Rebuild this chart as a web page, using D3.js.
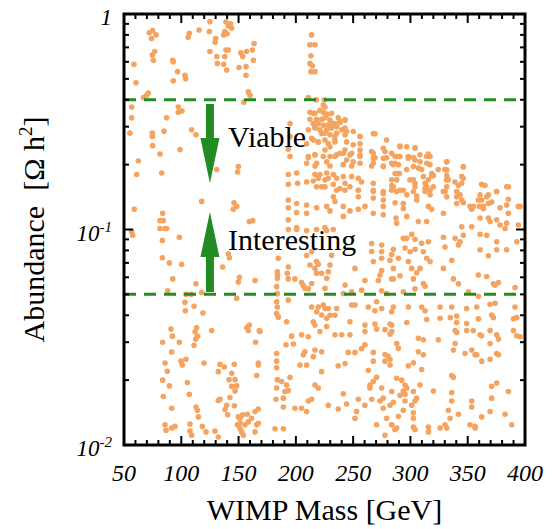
<!DOCTYPE html>
<html>
<head>
<meta charset="utf-8">
<script src="https://cdn.jsdelivr.net/npm/d3@7"></script>
<style>
  html, body { margin: 0; padding: 0; background: #fff; }
  svg text { font-family: "Liberation Serif", "Times New Roman", serif; fill: #000; }
</style>
</head>
<body>
<div id="chart"></div>
<script>
// Axis settings
const xTicks = [50, 100, 150, 200, 250, 300, 350, 400];
const yTicks = [0.01, 0.1, 1];
const yTickLabels = [["10", "-2"], ["10", "-1"], ["1", ""]];
const boundLines = [0.05, 0.4];
const regionLabels = ["Viable", "Interesting"];

// Scan points [mass GeV, abundance]
const ptsTopLeft = [
  [75,0.837],[72,0.819],[78,0.80],[74,0.77],[107,0.814],[106,0.78],[115.5,0.843],[125,0.92],[124.5,0.83],
  [130,0.77],[129.5,0.74],[139,0.92],[141,0.88],[143,0.9],[144,0.86],[138,0.83],[137,0.8],[140,0.81],
  [125,0.67],[131,0.635],[131.5,0.59],[139,0.68],[141,0.68],[138,0.635],[137,0.585],[139.6,0.55],
  [152,0.66],[153.6,0.635],[157,0.67],[162,0.68],[163.5,0.73],[150.4,0.565],[156.5,0.57],[156.5,0.52],
  [163,0.61],[76.8,0.67],[74.7,0.645],[75.6,0.61],[92.5,0.61],[93,0.6],[58.7,0.584],[96.8,0.54],
  [103.2,0.52],[103.8,0.5],[93,0.49],[60.5,0.48],[71.2,0.43],[69.8,0.42],[66.9,0.41],[158.5,0.435],
  [160,0.42],[154.7,0.39],[56.7,0.37],[56.7,0.33],[97.4,0.37],[97.4,0.35],[100.6,0.355],[87.2,0.33],
  [84.9,0.286],[74.7,0.28],[74.7,0.27],[55.2,0.28],[109,0.29],[112.8,0.275],[75,0.245],[81.4,0.224],
  [98.9,0.235],[62.5,0.208],[61,0.18],[82.9,0.183],[130.9,0.19],[149.8,0.196],[149.2,0.185],
  [117.8,0.135],[146,0.133],[148.3,0.128],[145.4,0.124],[59,0.124],[83.7,0.119],[81.4,0.11],
  [84.3,0.11],[85.8,0.101],[159.4,0.109],[162.3,0.11]
];

const ptsTopMid = [
  [213.8,0.8],[212.3,0.72],[216.7,0.72],[213.2,0.64],[212.3,0.59],[214.4,0.575],[213.2,0.54],[216.7,0.54],
  [210.9,0.41],[218,0.40],[224.8,0.40],[225.4,0.37],
  [212.3,0.35],[216.7,0.346],[221,0.357],[224,0.35],[226.9,0.343],[212.3,0.325],[218.1,0.325],[222.5,0.325],
  [225.4,0.33],[229.8,0.322],[215.2,0.31],[219.6,0.31],[224,0.305],[228.3,0.305],[232.7,0.31],[237,0.33],
  [238.5,0.314],[242.9,0.322],[235.6,0.30],[231.2,0.296],[226.9,0.29],[216.7,0.296],[210.9,0.29],
  [222.5,0.279],[229.8,0.275],[234.1,0.27],[242.9,0.296],[242.9,0.275],[250.1,0.285],[256,0.27],[267.6,0.279],
  [194.9,0.31],[194.9,0.27],[193.4,0.236],[194.9,0.218],
  [209.4,0.25],[215.2,0.26],[219.6,0.255],[225.4,0.26],[234.1,0.255],[229.8,0.242],[225.4,0.234],
  [216.7,0.222],[210.9,0.218],[209.4,0.203],[218.1,0.203],[226.9,0.206],[234.1,0.218],[238.5,0.226],
  [242.9,0.234],[244.3,0.21],[248.7,0.226],[250.1,0.206],[256,0.25],[256,0.234],[256,0.218],[256,0.203],
  [267.6,0.226],[267.6,0.214],[267.6,0.203],[276.3,0.238],[276.3,0.214],[276.3,0.196],[283.6,0.226],[283.6,0.203],
  [193.4,0.18],[200.7,0.183],[193.4,0.162],[201.5,0.164],
  [216.7,0.18],[219.6,0.173],[226.9,0.183],[228.3,0.173],[232.7,0.18],[235.6,0.173],[241.4,0.176],
  [248.7,0.176],[254.5,0.173],[257.4,0.166],
  [218.1,0.158],[225.4,0.158],[235.6,0.152],[242.9,0.152],[242.9,0.164],[232.7,0.142],[234.1,0.135],
  [254.5,0.152],[254.5,0.142],[267.6,0.164],[267.6,0.15],[267.6,0.14],[276.3,0.147],[276.3,0.137],
  [283.6,0.17],[283.6,0.152],
  [193.4,0.137],[200.7,0.132],[193.4,0.126],[200.7,0.12],[209.4,0.13],[209.4,0.119],[218.1,0.126],
  [226.9,0.128],[229.8,0.122],[241.4,0.128],[247.2,0.122],[241.4,0.115],[254.5,0.124],[260.3,0.128],
  [267.6,0.119],[276.3,0.128],[276.3,0.117],[193.4,0.111],[200.7,0.102],[225.4,0.102]
];

// extra points from the densest band (200-400 GeV, 0.1-0.4)
const ptsDense = [
  [224,0.378],[215.2,0.346],[226.9,0.34],[231.2,0.346],[234.1,0.31],[238.5,0.3166],[242.9,0.323],
  [216.7,0.30],[221,0.29],[225.4,0.28],[235.6,0.28],[240,0.29],[244.3,0.285],[256,0.27],[269.1,0.278],
  [279.2,0.26],[290.9,0.242],[304,0.238],[213.8,0.265],[219.6,0.255],[228.3,0.25],[234.1,0.26],
  [244.3,0.255],[250.1,0.247],[210.9,0.215],[216.7,0.222],[224,0.218],[229.8,0.218],[235.6,0.222],
  [241.4,0.226],[247.2,0.222],[256,0.222],[266.1,0.23],[269.1,0.215],[277.8,0.23],[279.2,0.215],
  [288,0.218],[298.1,0.218],[304,0.21],[308.3,0.222],[314.1,0.218],[331.6,0.206],[346.1,0.195],
  [216.7,0.197],[221,0.18],[229.8,0.197],[241.4,0.2],[248.7,0.197],[266.1,0.197],[276.3,0.197],
  [286.5,0.203],[289.4,0.182],[296.7,0.19],[306.9,0.193],[318.5,0.177],[324.3,0.19],[330.1,0.19],
  [331.6,0.17],[338.9,0.166],[346.1,0.173],[362.1,0.162],[368,0.145],[375.2,0.15],[384,0.158],
  [209.4,0.166],[215.2,0.168],[222.5,0.158],[225.4,0.17],[232.7,0.162],[238.5,0.155],[247.2,0.158],
  [254.5,0.152],[267.6,0.152],[276.3,0.15],[285.1,0.158],[290.9,0.152],[299.6,0.17],[304,0.158],
  [312.7,0.155],[320,0.158],[328.7,0.15],[340.3,0.142],[352,0.128],[359.2,0.137],[363.6,0.128],
  [370.9,0.134],[378.1,0.126],[394.1,0.128]
];

const ptsTopRight = [
  [290.9,0.244],[296.8,0.242],[304,0.24],[286.6,0.218],[290.9,0.218],[298.2,0.214],[302.6,0.216],
  [315.7,0.224],[317.1,0.218],[285.1,0.2],[289.5,0.2],[286.6,0.182],[290.3,0.182],[288,0.17],[283.7,0.16],
  [288,0.15],[293.8,0.152],[296.8,0.145],[302.6,0.196],[308.4,0.206],[309.8,0.19],[314.2,0.203],
  [317.1,0.2],[318.6,0.182],[320,0.178],[302.6,0.17],[304,0.164],[311.3,0.176],[312.8,0.164],[315.7,0.17],
  [314.2,0.158],[317.1,0.152],[312.8,0.15],[302.6,0.15],[305.5,0.137],[305.5,0.143],[317.1,0.145],
  [286.6,0.133],[293.8,0.132],[293.8,0.125],[331.7,0.206],[331.7,0.189],[331.7,0.178],[333.1,0.17],
  [331.7,0.158],[330.2,0.15],[331.7,0.142],[328.8,0.119],[346.2,0.196],[344.8,0.176],[344.8,0.164],
  [341.9,0.16],[340.4,0.15],[343.3,0.145],[344.8,0.137],[340.4,0.132],[346.2,0.133],[344.8,0.103],
  [315.7,0.128],[318.6,0.124],[314.2,0.109],[306.9,0.109],[296.8,0.115],[287.4,0.113],[288,0.107],
  [365.1,0.16],[360.8,0.145],[362.2,0.137],[366.6,0.142],[368,0.132],[360.2,0.128],[363.7,0.125],
  [355,0.128],[353.5,0.124],[375.3,0.15],[385.5,0.158],[385.5,0.138],[384,0.13],[385.5,0.119],
  [395.7,0.128],[360.8,0.113],[368,0.113],[369.5,0.109],[375.3,0.111],[378.2,0.105],[384,0.107],
  [394.2,0.105],[353.5,0.103]
];

const ptsBottomLeft = [
  [56.7,0.098],[57.6,0.094],[81.4,0.101],[87.2,0.101],[83.5,0.089],[98.3,0.092],[83.5,0.074],[89.6,0.070],
  [100.3,0.069],[92.5,0.059],[88.1,0.052],[112.8,0.056],[117.8,0.051],[104.1,0.050],[108.5,0.050],
  [103.2,0.046],[111.1,0.044],[103.5,0.042],[118.9,0.041],[141.1,0.077],[142,0.074],[136.1,0.067],
  [150.7,0.060],[149.8,0.057],[164.4,0.058],[148.3,0.048],[157.1,0.035],[159.4,0.036],[158.5,0.034],
  [164.9,0.030],[168.1,0.034],[91,0.0345],[92.2,0.032],[83.7,0.030],[98.3,0.030],[91.6,0.027],
  [113.4,0.035],[112,0.0335],[114.3,0.032],[111.1,0.029],[112.6,0.031],[126.5,0.034],[119.8,0.024],
  [104.1,0.025],[85.8,0.024],[87.8,0.022],[83.7,0.020],[89.6,0.0188],[84.3,0.0168],[99.8,0.0245],
  [100.9,0.0235],[105.3,0.0195],[107,0.0172],[112.8,0.015],[114.9,0.0135],[114,0.0145],[91.6,0.0148],
  [85.8,0.0124],[86.7,0.0117],[91.6,0.012],[94.5,0.0122],[107.6,0.0125],[107.6,0.0116],[109.1,0.0111],
  [118.4,0.0122],[121.6,0.0115],[129.4,0.0116],[132.3,0.0109],
  [133.8,0.0237],[132.3,0.0219],[137.6,0.023],[146.3,0.0237],[144,0.0215],[141.7,0.0201],[146.9,0.0201],
  [148.3,0.0188],[146.9,0.0178],[142.5,0.0166],[139.6,0.0153],[133.8,0.0163],[132.3,0.0161],[138.2,0.0146],
  [140.5,0.0138],[146.3,0.0152],[144,0.0187],
  [149.8,0.0135],[151.3,0.0133],[153.6,0.0138],[157.7,0.0139],[148.9,0.0124],[151.3,0.0119],[152.7,0.0115],
  [154.2,0.0111],[151.3,0.0126],[155.6,0.0124],[158.5,0.0128],[161.4,0.0133],[164.4,0.0143],[165.8,0.0124],
  [164.4,0.0115],[167.3,0.024],[165.8,0.021]
];

const ptsBottomMid = [
  [184.7,0.0735],[183.8,0.0637],[184.1,0.0615],[183.8,0.0593],[183.2,0.0543],[183.8,0.0504],[183.2,0.0462],
  [183.8,0.0437],[183.2,0.0407],[184.7,0.0392],[193.4,0.067],[192.5,0.0627],[193.4,0.059],[193.4,0.047],
  [191.9,0.0373],[191.4,0.0292],[196.3,0.032],
  [199.2,0.059],[205,0.0567],[208,0.0533],[206.5,0.055],[210.9,0.053],[213.8,0.0562],[216.7,0.066],
  [212.3,0.0684],[218.1,0.071],[209.4,0.0758],[213.8,0.079],[219.6,0.069],
  [218.1,0.0627],[222.5,0.0627],[228.3,0.0637],[226.9,0.0593],[229.8,0.0684],[231.2,0.076],[225.4,0.0533],
  [224,0.0446],[225.4,0.043],[228.3,0.043],[219.6,0.0437],[213.8,0.0437],[218.1,0.0415],[222.5,0.0401],
  [226.9,0.0387],[235.6,0.043],[234.1,0.04],[229.8,0.04],
  [215.2,0.0373],[216.7,0.036],[221,0.0336],[226.9,0.0355],[234.1,0.0325],[240,0.0325],[247.2,0.0325],
  [247.2,0.0373],[248.7,0.0446],[242.9,0.0552],[251.6,0.066],
  [210.9,0.0318],[205,0.0325],[197.8,0.0294],[207.9,0.0271],[206.5,0.0262],[216.7,0.0276],[222.5,0.0271],
  [215.2,0.0257],[203.6,0.0235],[209.4,0.0235],[222.5,0.0219],[216.7,0.019],[219.6,0.0184],[213.8,0.0163],
  [210.9,0.016],[205,0.0148],[209.4,0.0143],[199.2,0.0148],
  [183.2,0.0266],[183.2,0.0245],[183.2,0.0228],[183.8,0.0201],[183.2,0.0184],[182.6,0.0163],[187.6,0.0197],
  [191.9,0.019],[190.5,0.0177],[189.1,0.0165],[194.9,0.0206],[193.4,0.0179],[189.1,0.015],[181.8,0.0119],
  [189.1,0.0119],[167.2,0.0147],[167.2,0.0126],[167.2,0.0235],[168.7,0.0336],
  [228.3,0.0153],[237,0.0147],[244.3,0.0155],[241.4,0.0173],[254.5,0.0163],[253,0.0143],[251.6,0.0133],
  [260.3,0.0153],[266.2,0.0163],[264.7,0.019],[264.7,0.0184],[267.6,0.0197],[270.5,0.0206],[274.9,0.0184],
  [276.3,0.0165],[273.4,0.016],[276.3,0.0148],[282.2,0.0153],[279.2,0.0133],[283.6,0.0124],[286.5,0.0118],
  [277.8,0.0111],[270.5,0.0124],[263.2,0.0222],
  [237,0.0233],[242.9,0.0239],[245.8,0.0269],[251.6,0.0269],[257.4,0.028],[260.3,0.0292],[267.6,0.0269],
  [267.6,0.0245],[277.8,0.0263],[280.7,0.0257],[277.8,0.0245],[282.2,0.0327],[277.8,0.0343],[269,0.0364],
  [270.5,0.0345],[260.3,0.036],[260.3,0.0336],
  [248.7,0.0514],[241.4,0.0505],[251.6,0.0446],[257.4,0.0523],[260.3,0.058],[272,0.058],[274.9,0.052],
  [263.2,0.0437],[269,0.042],[274.9,0.043],[282.2,0.0364],[283.6,0.0415],[267.6,0.071],[274.9,0.0735],
  [274.9,0.0645],[273.4,0.0615],[266.2,0.079],[274.9,0.0789],[283.6,0.0765],[283.6,0.059],
  [279.2,0.0505],[270.5,0.0462],
  [193.4,0.1],[200.7,0.1],[209.4,0.099],[218.1,0.1],[226.9,0.099],[232.7,0.1],[266.2,0.086],[274.9,0.0848],
  [282.2,0.072]
];

const ptsBottomRight = [
  [293.8,0.091],[296.8,0.091],[301.1,0.095],[304,0.090],[309.8,0.0864],[315.7,0.0878],[328.8,0.092],
  [330.2,0.083],[339,0.091],[343.3,0.0878],[341.9,0.0848],[346.2,0.094],[360.8,0.095],[366.6,0.094],
  [375.3,0.0878],[382.6,0.101],[392.8,0.0878],[360.8,0.0806],[368,0.0755],[375.3,0.0806],[384,0.0806],
  [359.3,0.0615],[366.6,0.0605],[372.4,0.056],[376.8,0.0567],[391.3,0.0538],
  [285.1,0.081],[289.5,0.0735],[295.3,0.082],[299.7,0.0789],[304,0.081],[311.3,0.0789],[314.2,0.0735],
  [317.1,0.071],[298.2,0.071],[301.1,0.066],[305.5,0.063],[308.4,0.066],[302.6,0.059],[311.3,0.0562],
  [312.8,0.0545],[304,0.053],[293.8,0.0514],[285.1,0.066],[290.9,0.061],[285.1,0.059],
  [328.8,0.066],[336.1,0.072],[337.5,0.059],[341.9,0.056],[350.6,0.0514],[359.3,0.049],[373.9,0.0552],
  [285.1,0.0437],[298.2,0.0437],[309.8,0.0437],[312.8,0.042],[325.9,0.0437],[336,0.0437],[349.1,0.043],
  [357.9,0.0437],[369.5,0.045],[373.9,0.0455],[391.3,0.0437],[283.7,0.036],[283.7,0.0336],[296.8,0.037],
  [314.2,0.0382],[325.9,0.0387],[334.8,0.039],[340.4,0.0397],[340.4,0.037],[349.1,0.0366],[359.3,0.0385],
  [370.9,0.0401],[372.4,0.039],[392.8,0.039],[389.9,0.0385],[339,0.034],[340.4,0.0333],[349.1,0.034],
  [354.9,0.034],[360.8,0.0325],[362.2,0.0321],[369.5,0.034],[375.3,0.0325],[376.8,0.031],[389.9,0.034],
  [392.8,0.0321],[395.7,0.0318],[288,0.0296],[289.5,0.0281],[306.9,0.0313],[311.3,0.0308],[324.4,0.0308],
  [339,0.0296],[337.5,0.0276],[347.7,0.0266],[353.5,0.0276],[356.4,0.0262],[357.9,0.0262],[369.5,0.0296],
  [375.3,0.0266],[376.8,0.0262],[362.2,0.0245],[369.5,0.025],
  [282.2,0.0249],[282.2,0.0235],[288,0.0204],[292.4,0.02],[295.3,0.019],[296.8,0.0184],[293.8,0.0178],
  [295.3,0.0172],[290.9,0.017],[302.6,0.0241],[298.2,0.0233],[306.9,0.0271],[311.3,0.0262],[309.8,0.0224],
  [308.4,0.019],[302.6,0.0177],[305.5,0.0165],[304,0.016],[301.1,0.0153],[302.6,0.0141],[302.6,0.0133],
  [289.5,0.0136],[293.8,0.0145],[295.3,0.016],[285.1,0.0158],[283.7,0.0177],[283.7,0.0124],[288,0.012],
  [302.6,0.0121],[304,0.0118],[315.7,0.0121],[315.7,0.0115],[325.9,0.012],[330.2,0.0124],[331.7,0.012],
  [334.6,0.0133],[333.1,0.0145],[336,0.016],[320,0.0178],[336,0.0175],[337.5,0.0206],[336,0.021],
  [353.5,0.016],[353.5,0.015],[352,0.0124],[356.4,0.0122],[356.4,0.012],[341.9,0.0139],[370.9,0.0187],
  [370.9,0.0165],[369.5,0.0143],[375.3,0.0194],[382.6,0.0139],[385.5,0.0177],[388.4,0.0124],[362.2,0.0135]
];

const allPoints = [].concat(ptsTopLeft, ptsTopMid, ptsDense, ptsTopRight, ptsBottomLeft, ptsBottomMid, ptsBottomRight);

// Arrow geometry in data units: base of shaft, start of head, tip
const arrows = [
  {mass: 125, base: 0.382, head: 0.266, tip: 0.164},
  {mass: 125, base: 0.0513, head: 0.0745, tip: 0.1205}
];

const width = 558, height = 529;
const plot = {left: 124, right: 525, top: 14, bottom: 445};
const green = "#238b23";
const orange = "#f4a460";
const serif = "'Liberation Serif', 'Times New Roman', Times, serif";

const svg = d3.select("#chart").append("svg")
    .attr("width", width).attr("height", height)
    .attr("viewBox", `0 0 ${width} ${height}`)
    .attr("font-family", serif);

const x = d3.scaleLinear().domain([50, 400]).range([plot.left, plot.right]);
const y = d3.scaleLog().domain([0.01, 1]).range([plot.bottom, plot.top]);

// points
svg.append("g").selectAll("circle").data(allPoints).join("circle")
    .attr("cx", d => x(d[0])).attr("cy", d => y(d[1]))
    .attr("r", 2.8).attr("fill", orange);

// dashed bounds
svg.append("g").selectAll("line").data(boundLines).join("line")
    .attr("x1", plot.left).attr("x2", plot.right)
    .attr("y1", d => y(d)).attr("y2", d => y(d))
    .attr("stroke", green).attr("stroke-width", 3)
    .attr("stroke-dasharray", "12 8");

// arrows
const shaftW = 4, headW = 9.5;
svg.append("g").selectAll("path").data(arrows).join("path")
    .attr("d", a => {
        const cx = x(a.mass), yb = y(a.base), yh = y(a.head), yt = y(a.tip);
        return `M${cx - shaftW},${yb} L${cx + shaftW},${yb} L${cx + shaftW},${yh} L${cx + headW},${yh}
                L${cx},${yt} L${cx - headW},${yh} L${cx - shaftW},${yh} Z`;
    })
    .attr("fill", green);

svg.append("text").attr("x", x(140.8)).attr("y", y(0.241))
    .style("font-size", "30px").text(regionLabels[0]);
svg.append("text").attr("x", x(140.8)).attr("y", y(0.0804))
    .style("font-size", "30px").text(regionLabels[1]);

// ticks (inside, mirrored on all sides)
const xMinor = d3.range(50, 401, 10).filter(v => !xTicks.includes(v));
const yMinor = [];
[0.01, 0.1].forEach(dec => d3.range(2, 10).forEach(k => yMinor.push(dec * k)));

const tickG = svg.append("g").attr("stroke", "#000").attr("stroke-width", 2);
function xTick(v, len) {
    tickG.append("line").attr("x1", x(v)).attr("x2", x(v)).attr("y1", plot.bottom).attr("y2", plot.bottom - len);
    tickG.append("line").attr("x1", x(v)).attr("x2", x(v)).attr("y1", plot.top).attr("y2", plot.top + len);
}
function yTick(v, len) {
    tickG.append("line").attr("y1", y(v)).attr("y2", y(v)).attr("x1", plot.left).attr("x2", plot.left + len);
    tickG.append("line").attr("y1", y(v)).attr("y2", y(v)).attr("x1", plot.right).attr("x2", plot.right - len);
}
xTicks.forEach(v => xTick(v, 9));
xMinor.forEach(v => xTick(v, 5));
yTicks.forEach(v => yTick(v, 9));
yMinor.forEach(v => yTick(v, 5));

// frame
svg.append("rect")
    .attr("x", plot.left).attr("y", plot.top)
    .attr("width", plot.right - plot.left).attr("height", plot.bottom - plot.top)
    .attr("fill", "none").attr("stroke", "#000").attr("stroke-width", 3);

// x tick labels
svg.append("g").selectAll("text").data(xTicks).join("text")
    .attr("x", d => x(d)).attr("y", 481)
    .attr("text-anchor", "middle")
    .style("font-size", "24px").style("font-style", "italic")
    .text(d => d);

// y tick labels
const yl = svg.append("g").selectAll("text").data(yTicks).join("text")
    .attr("x", 112).attr("y", d => y(d) + 11)
    .attr("text-anchor", "end")
    .style("font-size", "23px").style("font-style", "italic");
yl.append("tspan").text((d, i) => yTickLabels[i][0]);
yl.append("tspan").attr("dy", -9).style("font-size", "15px").text((d, i) => yTickLabels[i][1]);

// axis titles
svg.append("text").attr("x", (plot.left + plot.right) / 2).attr("y", 520)
    .attr("text-anchor", "middle").style("font-size", "30px")
    .text("WIMP Mass [GeV]");

const yt = svg.append("text")
    .attr("transform", `translate(44,${(plot.top + plot.bottom) / 2}) rotate(-90)`)
    .attr("text-anchor", "middle").style("font-size", "30px")
    .attr("xml:space", "preserve");
yt.append("tspan").text("Abundance  [Ω h");
yt.append("tspan").attr("dy", -12).style("font-size", "19px").text("2");
yt.append("tspan").attr("dy", 12).text("]");
</script>
</body>
</html>
